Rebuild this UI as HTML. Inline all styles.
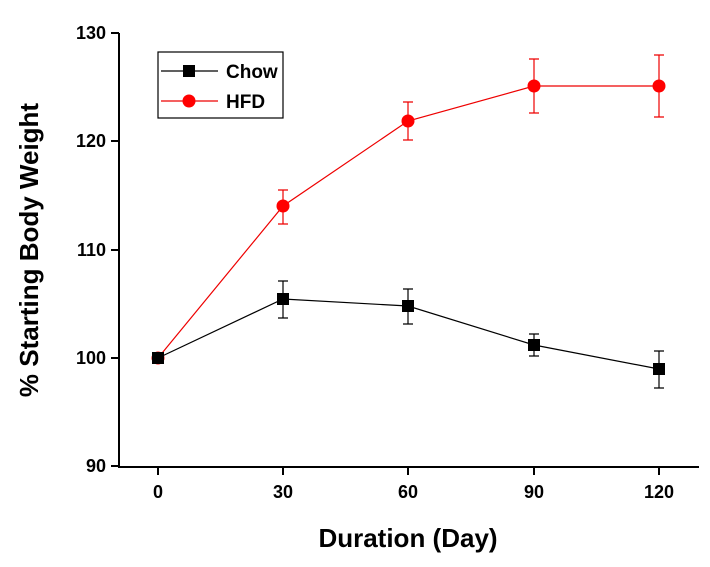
<!DOCTYPE html>
<html><head><meta charset="utf-8"><style>body{margin:0;background:#fff}svg{display:block}text{font-family:"Liberation Sans",sans-serif;font-weight:bold}</style></head><body>
<svg width="710" height="567" viewBox="0 0 710 567">
<g stroke="#000" stroke-width="2" fill="none">
<path d="M119,33 V467 H699"/>
<path d="M111,33H119M111,141H119M111,250H119M111,358H119M111,466H119"/>
<path d="M158,467V475M283,467V475M408,467V475M534,467V475M659,467V475"/>
</g>
<g font-size="18" text-anchor="end">
<text x="106" y="39">130</text><text x="106" y="147">120</text><text x="106" y="256">110</text><text x="106" y="364">100</text><text x="106" y="472">90</text>
</g>
<g font-size="18" text-anchor="middle">
<text x="158" y="498">0</text><text x="283" y="498">30</text><text x="408" y="498">60</text><text x="534" y="498">90</text><text x="659" y="498">120</text>
</g>
<text x="408" y="547" font-size="26" text-anchor="middle">Duration (Day)</text>
<text transform="translate(38,250) rotate(-90)" font-size="26" text-anchor="middle">% Starting Body Weight</text>
<g stroke="#e00" stroke-width="1.2" fill="none">
<polyline points="158,358 283,206 408,121 534,86 659,86"/>
<path d="M283,190V224M278,190H288M278,224H288M408,102V140M403,102H413M403,140H413M534,59V113M529,59H539M529,113H539M659,55V117M654,55H664M654,117H664"/>
</g>
<g fill="#f00"><circle cx="158" cy="358" r="6.5"/><circle cx="283" cy="206" r="6.5"/><circle cx="408" cy="121" r="6.5"/><circle cx="534" cy="86" r="6.5"/><circle cx="659" cy="86" r="6.5"/></g>
<g stroke="#000" stroke-width="1.2" fill="none">
<polyline points="158,358 283,299 408,306 534,345 659,369"/>
<path d="M283,281V318M278,281H288M278,318H288M408,289V324M403,289H413M403,324H413M534,334V356M529,334H539M529,356H539M659,351V388M654,351H664M654,388H664"/>
</g>
<g fill="#000"><rect x="152" y="352" width="12" height="12"/><rect x="277" y="293" width="12" height="12"/><rect x="402" y="300" width="12" height="12"/><rect x="528" y="339" width="12" height="12"/><rect x="653" y="363" width="12" height="12"/></g>
<rect x="158" y="52" width="125" height="66" fill="none" stroke="#000" stroke-width="1.2"/>
<line x1="161" y1="71" x2="218" y2="71" stroke="#000" stroke-width="1.2"/>
<rect x="183" y="65" width="12" height="12" fill="#000"/>
<line x1="161" y1="101" x2="218" y2="101" stroke="#e00" stroke-width="1.2"/>
<circle cx="189" cy="101" r="6.5" fill="#f00"/>
<text x="226" y="78" font-size="19">Chow</text>
<text x="226" y="108" font-size="19">HFD</text>
</svg>
</body></html>
